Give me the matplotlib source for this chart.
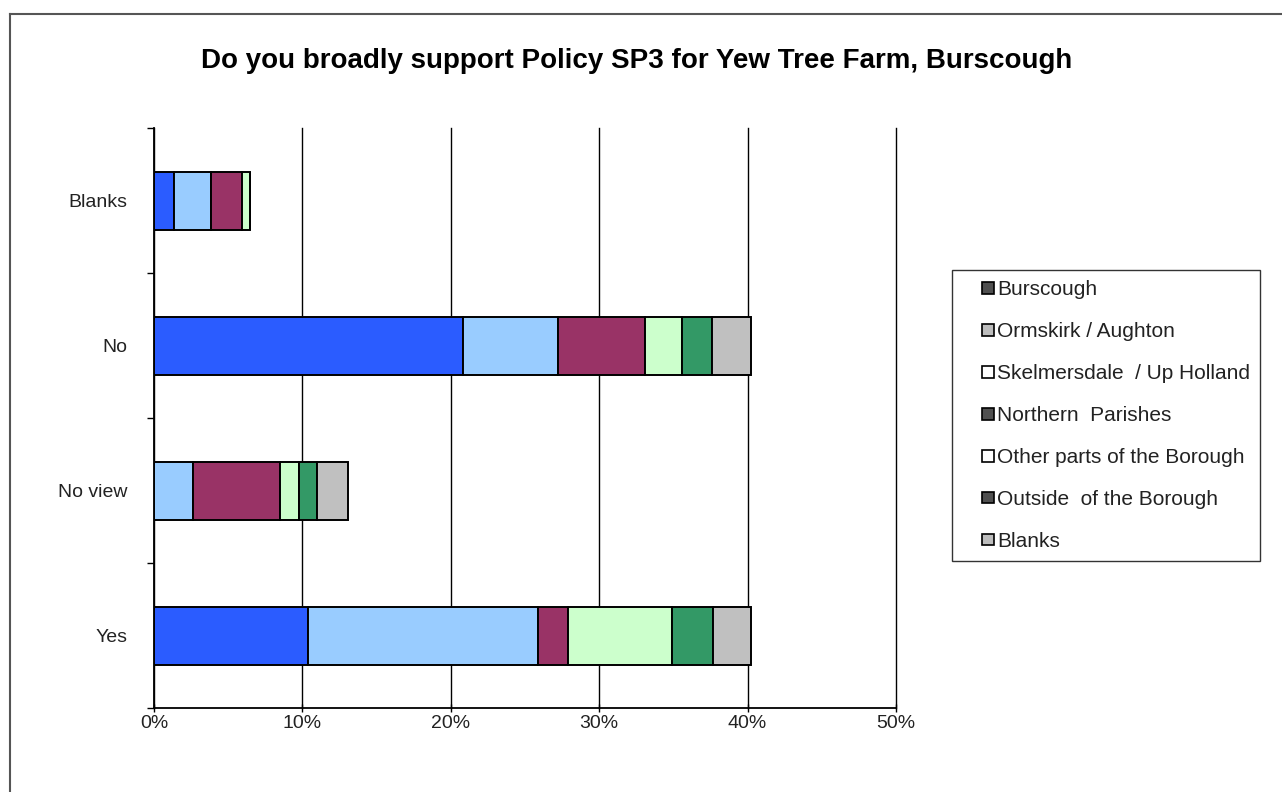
import matplotlib.pyplot as plt
from matplotlib.patches import Rectangle
from matplotlib.lines import Line2D
from matplotlib.legend_handler import HandlerPatch
import numpy as np

plt.rcParams['font.family'] = ['Liberation Sans', 'DejaVu Sans']

# Responses, bottom to top
CATEGORIES = ['Yes', 'No view', 'No', 'Blanks']

# Share of all responses (%) by area, one list per area
BURSCOUGH = [10.4, 0.0, 20.8, 1.35]
ORMSKIRK = [15.5, 2.6, 6.4, 2.5]
SKELMERSDALE = [0.0, 0.0, 0.0, 0.0]
NORTHERN = [2.0, 5.9, 5.9, 2.05]
OTHER_PARTS = [7.0, 1.3, 2.5, 0.6]
OUTSIDE = [2.8, 1.2, 2.0, 0.0]
BLANKS = [2.5, 2.1, 2.6, 0.0]

SERIES_NAMES = ['Burscough', 'Ormskirk / Aughton', 'Skelmersdale  / Up Holland',
                'Northern  Parishes', 'Other parts of the Borough',
                'Outside  of the Borough', 'Blanks']
SERIES = [BURSCOUGH, ORMSKIRK, SKELMERSDALE, NORTHERN, OTHER_PARTS, OUTSIDE, BLANKS]

BAR_COLORS = ['#2b5cff', '#99ccff', '#ffffcc', '#993366', '#ccffcc', '#339966', '#c0c0c0']
# legend swatches come out greyscale in the original export
LEGEND_COLORS = ['#505050', '#bdbdbd', '#ffffff', '#505050', '#ffffff', '#505050', '#bdbdbd']

TITLE = 'Do you broadly support Policy SP3 for Yew Tree Farm, Burscough'
TEXT_COLOR = '#222222'


def small_square(legend, orig_handle, xdescent, ydescent, width, height, fontsize):
    # square swatch pushed to the right end of the handle box
    s = 0.55 * fontsize
    return Rectangle((-xdescent + width - s, -ydescent + (height - s) / 2), s, s)


fig = plt.figure(figsize=(12.82, 7.92), dpi=100)
ax = fig.add_axes([154 / 1282, 1 - 708 / 792, (896 - 154) / 1282, (708 - 128) / 792])

y = np.arange(len(CATEGORIES))
left = np.zeros(len(CATEGORIES))
for vals, color in zip(SERIES, BAR_COLORS):
    vals = np.array(vals)
    ax.barh(y, vals, left=left, height=0.4, color=color,
            edgecolor='black', linewidth=1.4)
    left += vals

ax.set_xlim(0, 50)
ax.set_ylim(-0.5, len(CATEGORIES) - 0.5)
ax.set_xticks(np.arange(0, 51, 10))
ax.set_xticklabels([f'{v}%' for v in range(0, 51, 10)], fontsize=14, color=TEXT_COLOR)
ax.set_yticks(y)
ax.set_yticklabels(CATEGORIES, fontsize=14, color=TEXT_COLOR)
ax.set_yticks(np.arange(-0.5, len(CATEGORIES), 1), minor=True)
ax.tick_params(axis='y', which='major', length=0, pad=19)
ax.tick_params(axis='y', which='minor', length=5, width=1, direction='out')
ax.tick_params(axis='x', length=6, width=1, direction='inout', pad=2)

ax.grid(axis='x', color='black', linewidth=1)
for gl in ax.get_xgridlines():
    gl.set_clip_on(False)
ax.set_axisbelow(True)
for side in ['top', 'right']:
    ax.spines[side].set_visible(False)
for side in ['left', 'bottom']:
    ax.spines[side].set_linewidth(1.3)

fig.text(637 / 1282, 1 - 61 / 792, TITLE, ha='center', va='center',
         fontsize=20, fontweight='bold', color='black')

handles = [Rectangle((0, 0), 1, 1, facecolor=c, edgecolor='black', linewidth=1.2)
           for c in LEGEND_COLORS]
leg = fig.legend(handles, SERIES_NAMES, loc='upper left',
                 bbox_to_anchor=(952 / 1282, 1 - 270 / 792), fontsize=15,
                 frameon=True, fancybox=False, edgecolor='black',
                 handlelength=1.5, handleheight=0.7, handletextpad=0.15,
                 labelspacing=1.1, borderpad=0.5, borderaxespad=0,
                 handler_map={Rectangle: HandlerPatch(patch_func=small_square)})
leg.get_frame().set_linewidth(1)
for t in leg.get_texts():
    t.set_color(TEXT_COLOR)

# outer chart frame (top and left edges show)
fig.add_artist(Line2D([10 / 1282, 1], [1 - 14 / 792, 1 - 14 / 792],
                      transform=fig.transFigure, color='#555555', linewidth=1.5))
fig.add_artist(Line2D([10 / 1282, 10 / 1282], [0, 1 - 14 / 792],
                      transform=fig.transFigure, color='#555555', linewidth=1.5))

fig.savefig('out.png', dpi=100, facecolor='white')
